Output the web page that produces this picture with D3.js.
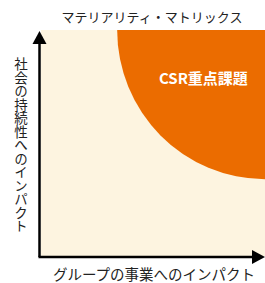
<!DOCTYPE html>
<html>
<head>
<meta charset="utf-8">
<script src="https://cdn.jsdelivr.net/npm/d3@7"></script>
<style>
  body { margin: 0; background: #fff; }
  text { font-family: "Noto Sans CJK JP", "Noto Sans", sans-serif; }
</style>
</head>
<body>
<div id="chart"></div>
<script>
  // chart values
  var title = ['マテリアリティ・マトリックス'];
  var axisLabels = ['グループの事業へのインパクト', '社会の持続性へのインパクト'];
  var zoneNames = ['CSR重点課題'];
  var zoneRadius = [0.66]; // share of each axis, measured from the top-right corner
  var domain = [0, 1];

  (function() {
    var width = 265, height = 283;
    var plotLeft = 41, plotRight = 265, plotTop = 30, plotBottom = 256;

    var x = d3.scaleLinear().domain(domain).range([plotLeft, plotRight]);
    var y = d3.scaleLinear().domain(domain).range([plotBottom, plotTop]);

    var svg = d3.select('#chart').append('svg')
      .attr('width', width).attr('height', height);

    svg.append('defs').append('clipPath').attr('id', 'plot')
      .append('rect')
      .attr('x', x(0)).attr('y', y(1))
      .attr('width', x(1) - x(0)).attr('height', y(0) - y(1));

    svg.append('rect')
      .attr('x', x(0)).attr('y', y(1))
      .attr('width', x(1) - x(0)).attr('height', y(0) - y(1))
      .attr('fill', '#fdf4e0');

    svg.append('g').attr('clip-path', 'url(#plot)')
      .selectAll('ellipse').data(zoneRadius).enter().append('ellipse')
      .attr('cx', x(1)).attr('cy', y(1))
      .attr('rx', function(r) { return x(1) - x(1 - r); })
      .attr('ry', function(r) { return y(1 - r) - y(1); })
      .attr('fill', '#eb6c00');

    svg.selectAll('.zone').data(zoneNames).enter().append('text')
      .attr('class', 'zone')
      .attr('x', x(0.725)).attr('y', y(0.79))
      .attr('text-anchor', 'middle').attr('dominant-baseline', 'central')
      .attr('fill', '#fff').attr('font-size', 15).attr('font-weight', 'bold')
      .text(function(d) { return d; });

    // axes with arrows
    var ax = 39.5, ay = 257;
    svg.append('line').attr('x1', ax).attr('y1', ay).attr('x2', ax).attr('y2', 42)
      .attr('stroke', '#000').attr('stroke-width', 2.5);
    svg.append('line').attr('x1', ax - 1).attr('y1', ay).attr('x2', 254).attr('y2', ay)
      .attr('stroke', '#000').attr('stroke-width', 2.5);
    svg.append('path').attr('d', 'M' + ax + ',31L' + (ax + 7) + ',44L' + (ax - 7) + ',44Z').attr('fill', '#000');
    svg.append('path').attr('d', 'M265,' + ay + 'L252,' + (ay - 7) + 'L252,' + (ay + 7) + 'Z').attr('fill', '#000');

    svg.append('text').datum(title[0])
      .attr('x', 152).attr('y', 16)
      .attr('text-anchor', 'middle').attr('dominant-baseline', 'central')
      .attr('font-size', 13).attr('fill', '#222')
      .text(function(d) { return d; });

    svg.append('text').datum(axisLabels[0])
      .attr('x', 154).attr('y', 273)
      .attr('text-anchor', 'middle').attr('dominant-baseline', 'central')
      .attr('font-size', 14.5).attr('fill', '#222')
      .text(function(d) { return d; });

    svg.append('text').datum(axisLabels[1])
      .attr('x', 21).attr('y', 145)
      .attr('text-anchor', 'middle')
      .style('writing-mode', 'vertical-rl')
      .attr('font-size', 13.5).attr('fill', '#222')
      .text(function(d) { return d; });
  })();
</script>
</body>
</html>
